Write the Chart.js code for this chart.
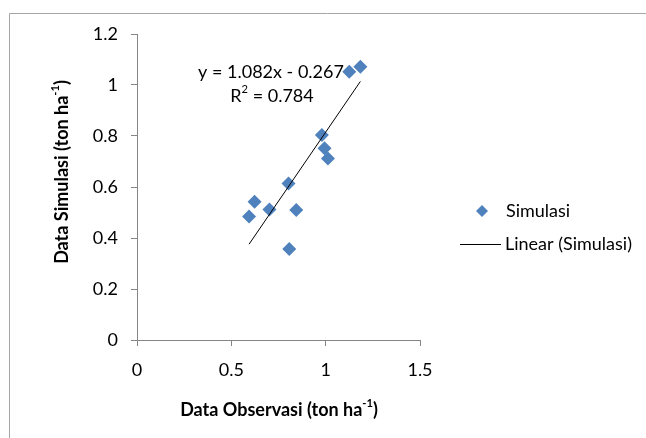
<!DOCTYPE html>
<html>
<head>
<meta charset="utf-8">
<script src="https://cdn.jsdelivr.net/npm/chart.js@4.4.0/dist/chart.umd.min.js"></script>
<style>
  html, body { margin: 0; padding: 0; background: #fff; }
  #wrap { width: 646px; height: 438px; }
</style>
</head>
<body>
<div id="wrap"><canvas id="scatterChart" width="646" height="438"></canvas></div>
<script>
// observed vs simulated (ton ha-1)
var observasi = [0.594, 0.623, 0.702, 0.803, 0.807, 0.844, 0.980, 0.994, 1.012, 1.125, 1.184];
var simulasi  = [0.484, 0.542, 0.512, 0.614, 0.357, 0.510, 0.804, 0.752, 0.712, 1.052, 1.072];

var slope = 1.082;
var intercept = -0.267;
var rSquared = 0.784;

var xTicks = [0, 0.5, 1, 1.5];
var yTicks = [0, 0.2, 0.4, 0.6, 0.8, 1, 1.2];

var titleFont = '"Lato", "Open Sans", sans-serif';

var points = observasi.map(function(x, i) { return { x: x, y: simulasi[i] }; });
var xMin = Math.min.apply(null, observasi);
var xMax = Math.max.apply(null, observasi);
var trend = [
  { x: xMin, y: slope * xMin + intercept },
  { x: xMax, y: slope * xMax + intercept }
];

// text with superscript part
function drawSup(ctx, parts, x, y, size, bold, align) {
  var w = 0;
  parts.forEach(function(p) {
    ctx.font = (bold ? 'bold ' : '') + (p.sup ? size * 0.62 : size) + 'px ' + titleFont;
    w += ctx.measureText(p.t).width;
  });
  var cx = align === 'center' ? x - w / 2 : x;
  parts.forEach(function(p) {
    ctx.font = (bold ? 'bold ' : '') + (p.sup ? size * 0.62 : size) + 'px ' + titleFont;
    ctx.fillText(p.t, cx, p.sup ? y - size * 0.36 : y);
    cx += ctx.measureText(p.t).width;
  });
}

var extras = {
  id: 'extras',
  beforeDraw: function(chart) {
    var ctx = chart.ctx;
    ctx.save();
    ctx.strokeStyle = '#a6a6a6';
    ctx.lineWidth = 1;
    ctx.beginPath();
    ctx.moveTo(9.5, 438);
    ctx.lineTo(9.5, 13.5);
    ctx.lineTo(646, 13.5);
    ctx.stroke();
    ctx.restore();
  },
  afterDraw: function(chart) {
    var ctx = chart.ctx;
    ctx.save();
    ctx.fillStyle = '#000';
    ctx.textBaseline = 'middle';
    ctx.textAlign = 'left';

    // axis titles
    drawSup(ctx, [{ t: 'Data Observasi (ton ha' }, { t: '-1', sup: true }, { t: ')' }], 279, 410, 18, true, 'center');
    ctx.save();
    ctx.translate(62, 172);
    ctx.rotate(-Math.PI / 2);
    drawSup(ctx, [{ t: 'Data Simulasi (ton ha' }, { t: '-1', sup: true }, { t: ')' }], 0, 0, 18, true, 'center');
    ctx.restore();

    // trendline label
    drawSup(ctx, [{ t: 'y = ' + slope.toFixed(3) + 'x - ' + Math.abs(intercept).toFixed(3) }], 271, 72, 18, false, 'center');
    drawSup(ctx, [{ t: 'R' }, { t: '2', sup: true }, { t: ' = ' + rSquared.toFixed(3) }], 272, 96, 18, false, 'center');

    // legend
    ctx.fillStyle = '#4F81BD';
    ctx.beginPath();
    ctx.moveTo(482, 205);
    ctx.lineTo(488, 211);
    ctx.lineTo(482, 217);
    ctx.lineTo(476, 211);
    ctx.closePath();
    ctx.fill();
    ctx.strokeStyle = '#000';
    ctx.lineWidth = 1;
    ctx.beginPath();
    ctx.moveTo(460, 244.5);
    ctx.lineTo(501, 244.5);
    ctx.stroke();
    ctx.fillStyle = '#000';
    ctx.font = '18px ' + titleFont;
    ctx.fillText('Simulasi', 506, 211);
    ctx.fillText('Linear (Simulasi)', 505, 244);
    ctx.restore();
  }
};

new Chart(document.getElementById('scatterChart').getContext('2d'), {
  type: 'scatter',
  data: {
    datasets: [{
      label: 'Linear (Simulasi)',
      type: 'line',
      data: trend,
      borderColor: '#000',
      borderWidth: 1,
      pointRadius: 0,
      fill: false,
      order: 0
    }, {
      label: 'Simulasi',
      data: points,
      pointStyle: 'rectRot',
      pointRadius: 7,
      pointHoverRadius: 7,
      backgroundColor: '#4F81BD',
      borderColor: '#4F81BD',
      borderWidth: 0,
      order: 1
    }]
  },
  options: {
    responsive: false,
    animation: false,
    layout: { padding: { left: 0, top: 34, right: 226, bottom: 0 } },
    plugins: {
      legend: { display: false },
      tooltip: { enabled: false }
    },
    scales: {
      x: {
        type: 'linear',
        min: 0,
        max: 1.5,
        afterBuildTicks: function(scale) {
          scale.ticks = xTicks.map(function(v) { return { value: v }; });
        },
        afterFit: function(scale) { scale.height = 98; },
        grid: { drawOnChartArea: false, tickLength: 6, color: '#868686' },
        border: { color: '#868686' },
        ticks: {
          padding: 13,
          color: '#000',
          font: { family: titleFont, size: 18 },
          callback: function(v) { return String(Number(v.toFixed(1))); }
        }
      },
      y: {
        min: 0,
        max: 1.2,
        afterBuildTicks: function(scale) {
          scale.ticks = yTicks.map(function(v) { return { value: v }; });
        },
        afterFit: function(scale) { scale.width = 137; },
        grid: { drawOnChartArea: false, tickLength: 6, color: '#868686' },
        border: { color: '#868686' },
        ticks: {
          padding: 13,
          color: '#000',
          font: { family: titleFont, size: 18 },
          callback: function(v) { return String(Number(v.toFixed(1))); }
        }
      }
    }
  },
  plugins: [extras]
});
</script>
</body>
</html>
